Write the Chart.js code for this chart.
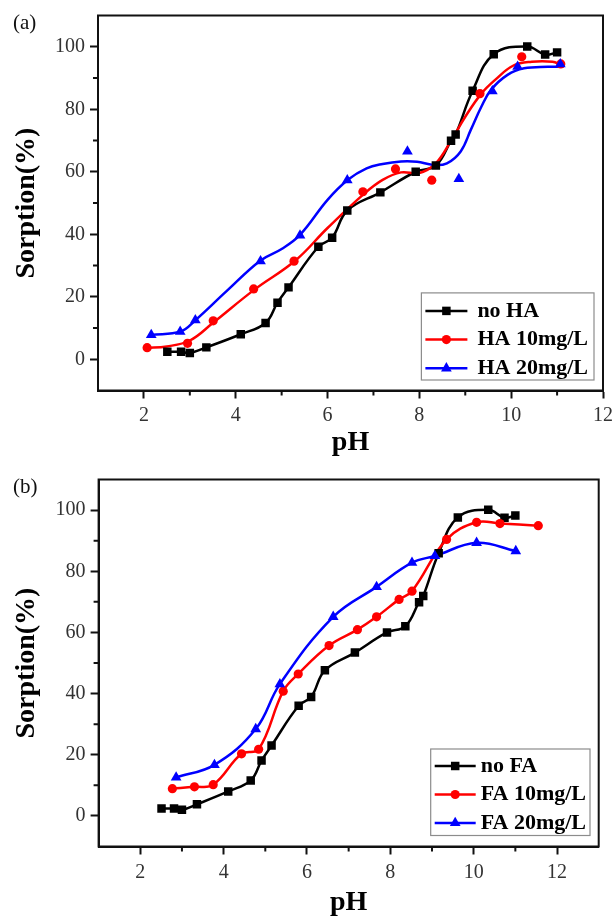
<!DOCTYPE html>
<html>
<head>
<meta charset="utf-8">
<script src="https://cdn.jsdelivr.net/npm/chart.js@4.4.0/dist/chart.umd.min.js"></script>
<style>
html,body{margin:0;padding:0;background:#fff;}
#wrap{position:relative;width:615px;height:920px;background:#fff;}
canvas{position:absolute;left:0;}
#ca{top:0;}
#cb{top:460px;}
</style>
</head>
<body>
<div id="wrap">
<canvas id="ca" width="615" height="460"></canvas>
<canvas id="cb" width="615" height="460"></canvas>
</div>
<script>
// ---------- data ----------
// control series (no HA / no FA), same in both panels
const phNone   = [2.51, 2.81, 3.00, 3.36, 4.11, 4.65, 4.91, 5.15, 5.80, 6.10, 6.43, 7.15, 7.92, 8.36, 8.69, 8.79, 9.16, 9.62, 10.35, 10.74, 11.00];
const sorpNone = [2.4, 2.4, 2.0, 3.8, 8.0, 11.6, 18.1, 23.0, 36.0, 38.9, 47.6, 53.4, 60.0, 62.0, 69.9, 71.9, 85.9, 97.6, 100.1, 97.5, 98.2];

// panel (a) HA 10 mg/L markers
const phHA10   = [2.07, 2.95, 3.51, 4.39, 5.27, 6.77, 7.48, 8.27, 9.32, 10.23, 11.08];
const sorpHA10 = [3.7, 5.1, 12.3, 22.5, 31.4, 53.6, 60.9, 57.3, 85.0, 96.8, 94.5];
// panel (a) HA 20 mg/L markers
const phHA20   = [2.16, 2.79, 3.12, 4.54, 5.40, 6.43, 7.74, 8.86, 9.59, 10.14, 11.07];
const sorpHA20 = [7.8, 8.8, 12.5, 31.4, 39.6, 57.3, 66.5, 57.7, 85.8, 93.6, 94.4];

// panel (a) fitted curves
const fitHA10X = [2.05, 2.5, 3.0, 3.5, 4.4, 5.3, 6.0, 6.8, 7.2, 7.6, 8.0, 8.35, 8.7, 9.0, 9.35, 9.65, 10.05, 10.45, 10.9, 11.08];
const fitHA10Y = [3.6, 4.1, 6.0, 11.6, 22.2, 31.6, 42.0, 53.0, 57.4, 59.8, 59.6, 62.6, 70.2, 77.6, 85.0, 89.4, 94.0, 95.2, 95.2, 94.3];
const fitHA20X = [2.16, 2.8, 3.12, 3.8, 4.54, 5.0, 5.4, 6.0, 6.45, 6.85, 7.2, 7.6, 7.95, 8.3, 8.6, 8.9, 9.12, 9.35, 9.56, 9.92, 10.28, 10.8, 11.08];
const fitHA20Y = [7.8, 8.9, 12.5, 21.8, 31.6, 35.3, 39.8, 51.0, 57.5, 61.1, 62.5, 63.3, 63.2, 62.2, 62.7, 66.5, 73.4, 80.8, 86.2, 91.0, 93.1, 93.6, 93.6];

// panel (b) FA 10 mg/L
const phFA10   = [2.77, 3.30, 3.75, 4.43, 4.84, 5.43, 5.79, 6.53, 7.21, 7.67, 8.21, 8.52, 9.35, 10.07, 10.63, 11.55];
const sorpFA10 = [8.9, 9.5, 10.2, 20.3, 21.8, 40.8, 46.4, 55.7, 60.9, 65.1, 70.8, 73.5, 90.4, 96.0, 95.6, 94.9];
// panel (b) FA 20 mg/L
const phFA20   = [2.86, 3.78, 4.77, 5.35, 6.63, 7.67, 8.52, 9.07, 10.07, 11.01];
const sorpFA20 = [12.6, 16.7, 28.4, 43.1, 65.1, 74.9, 82.8, 85.0, 89.3, 86.6];

// ticks and labels
const xTickValues  = [2, 4, 6, 8, 10, 12];
const xMinorValues = [3, 5, 7, 9, 11];
const yTickValues  = [0, 20, 40, 60, 80, 100];
const yMinorValues = [10, 30, 50, 70, 90];
const seriesLabelsA = ['no HA', 'HA 10mg/L', 'HA 20mg/L'];
const seriesLabelsB = ['no FA', 'FA 10mg/L', 'FA 20mg/L'];
const panelLabels = ['(a)', '(b)'];

// ---------- helpers ----------
const SERIF = '"Liberation Serif","Times New Roman",Times,serif';
const COLORS = ['#000000', '#ff0000', '#0000ff'];
const STYLES = ['rect', 'circle', 'triangle'];
const RADII = [6, 4.6, 6.2];
const AXIS = '#111111';

function pts(xs, ys) { return xs.map((x, i) => ({ x: x, y: ys[i] })); }

function lineDs(data, i) {
  return { data: data, showLine: true, borderColor: COLORS[i], borderWidth: 2.5,
    pointRadius: 0, pointHoverRadius: 0, tension: 0.4, fill: false };
}
function markDs(data, i) {
  return { data: data, showLine: false, pointStyle: STYLES[i], pointRadius: RADII[i],
    pointHoverRadius: RADII[i], backgroundColor: COLORS[i], borderColor: COLORS[i], borderWidth: 0 };
}

const framePlugin = {
  id: 'frameExtras',
  afterDraw(chart, args, o) {
    const { ctx, chartArea: a } = chart;
    const xs = chart.scales.x, ys = chart.scales.y;
    ctx.save();
    ctx.strokeStyle = AXIS;
    ctx.lineWidth = 2;
    ctx.strokeRect(a.left, a.top, a.right - a.left, a.bottom - a.top);
    ctx.beginPath();
    xMinorValues.forEach(v => {
      const p = xs.getPixelForValue(v);
      ctx.moveTo(p, a.bottom); ctx.lineTo(p, a.bottom + 5);
    });
    yMinorValues.forEach(v => {
      const p = ys.getPixelForValue(v);
      ctx.moveTo(a.left, p); ctx.lineTo(a.left - 5, p);
    });
    ctx.stroke();
    // panel label
    ctx.fillStyle = '#111';
    ctx.font = '21px ' + SERIF;
    ctx.textBaseline = 'middle';
    ctx.textAlign = 'left';
    ctx.fillText(o.panel, o.panelX, o.panelY);
    ctx.restore();
  }
};

const boxLegend = {
  id: 'boxLegend',
  afterDraw(chart, args, o) {
    const { ctx, chartArea: a } = chart;
    ctx.save();
    ctx.font = 'bold ' + o.fontSize + 'px ' + SERIF;
    const tw = Math.max.apply(null, o.labels.map(l => ctx.measureText(l).width));
    const w = o.padL + o.lineLen + o.gap + tw + o.padR;
    const h = o.padT + o.rowH * (o.labels.length - 1) + o.padB;
    const right = a.right - o.rightGap, bottom = a.bottom - o.bottomGap;
    const left = right - w, top = bottom - h;
    ctx.fillStyle = '#ffffff';
    ctx.fillRect(left, top, w, h);
    ctx.strokeStyle = '#8c8c8c';
    ctx.lineWidth = 1.2;
    ctx.strokeRect(left, top, w, h);
    o.labels.forEach((lab, i) => {
      const y = top + o.padT + i * o.rowH;
      const x0 = left + o.padL, x1 = x0 + o.lineLen;
      ctx.strokeStyle = COLORS[i];
      ctx.lineWidth = 2.5;
      ctx.beginPath(); ctx.moveTo(x0, y); ctx.lineTo(x1, y); ctx.stroke();
      ctx.fillStyle = COLORS[i];
      Chart.helpers.drawPoint(ctx, { pointStyle: STYLES[i], radius: RADII[i], rotation: 0, borderWidth: 0 }, (x0 + x1) / 2, y);
      ctx.fillStyle = '#000';
      ctx.textBaseline = 'middle';
      ctx.textAlign = 'left';
      ctx.fillText(lab, x1 + o.gap, y);
    });
    ctx.restore();
  }
};

function makeChart(id, datasets, cfg) {
  return new Chart(document.getElementById(id), {
    type: 'scatter',
    data: { datasets: datasets },
    plugins: [framePlugin, boxLegend],
    options: {
      responsive: false,
      animation: false,
      events: [],
      layout: { padding: { left: 0, right: cfg.padRight, top: cfg.padTop, bottom: 0 } },
      scales: {
        x: {
          type: 'linear', min: 1, max: cfg.xMax,
          afterBuildTicks: s => { s.ticks = xTickValues.map(v => ({ value: v })); },
          afterFit: s => { s.height = cfg.xHeight; s.paddingLeft = 0; s.paddingRight = 0; },
          ticks: { font: { family: SERIF, size: 20 }, color: '#333', padding: cfg.xPad, maxRotation: 0 },
          grid: { drawOnChartArea: false, drawTicks: true, tickLength: 8, tickWidth: 2, tickColor: AXIS },
          border: { display: true, color: AXIS, width: 2 },
          title: { display: true, text: 'pH', color: '#000', font: { family: SERIF, size: 28, weight: 'bold' }, padding: { top: 0, bottom: 0 } }
        },
        y: {
          type: 'linear', min: -10, max: 110,
          afterBuildTicks: s => { s.ticks = yTickValues.map(v => ({ value: v })); },
          afterFit: s => { s.width = cfg.yWidth; s.paddingTop = 0; s.paddingBottom = 0; },
          ticks: { font: { family: SERIF, size: 20 }, color: '#333', padding: 5 },
          grid: { drawOnChartArea: false, drawTicks: true, tickLength: 8, tickWidth: 2, tickColor: AXIS },
          border: { display: true, color: AXIS, width: 2 },
          title: { display: true, text: 'Sorption(%)', color: '#000', font: { family: SERIF, size: 28, weight: 'bold' }, padding: { top: 10, bottom: 0 } }
        }
      },
      plugins: {
        legend: { display: false },
        tooltip: { enabled: false },
        frameExtras: { panel: cfg.panel, panelX: 13, panelY: cfg.panelY },
        boxLegend: cfg.legend
      }
    }
  });
}

// ---------- panel (a) ----------
makeChart('ca', [
  markDs(pts(phHA20, sorpHA20), 2),
  markDs(pts(phHA10, sorpHA10), 1),
  markDs(pts(phNone, sorpNone), 0),
  lineDs(pts(fitHA20X, fitHA20Y), 2),
  lineDs(pts(fitHA10X, fitHA10Y), 1),
  lineDs(pts(phNone, sorpNone), 0)
], {
  xMax: 12, padRight: 12, padTop: 15.5, xHeight: 69.5, yWidth: 98, xPad: 5,
  panel: panelLabels[0], panelY: 23.5,
  legend: { labels: seriesLabelsA, fontSize: 22, rightGap: 9, bottomGap: 10.5,
    padL: 4, lineLen: 42, gap: 10, padR: 6, padT: 18, rowH: 28.7, padB: 11.7 }
});

// ---------- panel (b) ----------
makeChart('cb', [
  markDs(pts(phFA20, sorpFA20), 2),
  markDs(pts(phFA10, sorpFA10), 1),
  markDs(pts(phNone, sorpNone), 0),
  lineDs(pts(phFA20, sorpFA20), 2),
  lineDs(pts(phFA10, sorpFA10), 1),
  lineDs(pts(phNone, sorpNone), 0)
], {
  xMax: 13, padRight: 16.3, padTop: 19.5, xHeight: 73.5, yWidth: 98.6, xPad: 6,
  panel: panelLabels[1], panelY: 27.5,
  legend: { labels: seriesLabelsB, fontSize: 22, rightGap: 8.7, bottomGap: 11,
    padL: 4, lineLen: 41, gap: 5, padR: 4, padT: 17, rowH: 28.5, padB: 12.5 }
});
</script>
</body>
</html>
